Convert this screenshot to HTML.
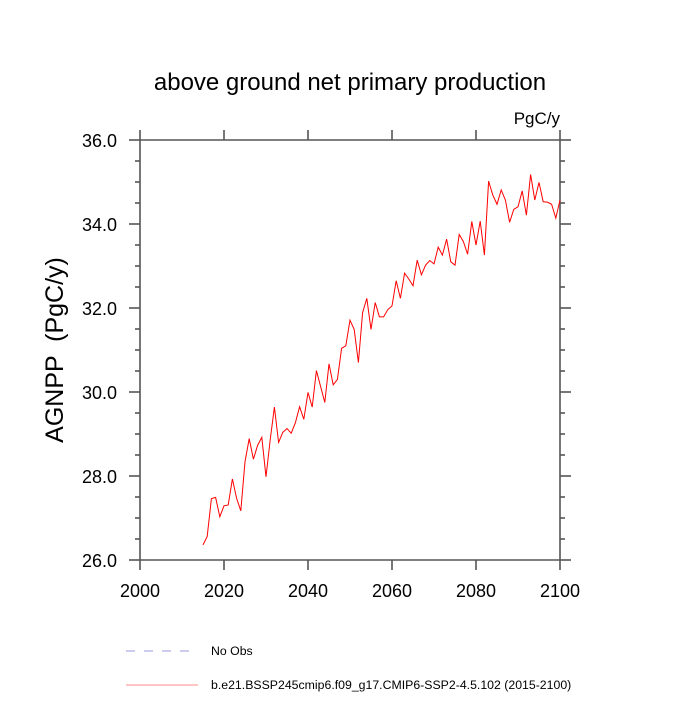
<!DOCTYPE html>
<html><head><meta charset="utf-8"><style>
html,body{margin:0;padding:0;background:#fff;}
svg text{font-family:"Liberation Sans",sans-serif;fill:#000;}
</style></head><body>
<svg id="chart" width="700" height="700">
<text x="350" y="90" font-size="24" text-anchor="middle">above ground net primary production</text>
<text x="560" y="124" font-size="17" text-anchor="end">PgC/y</text>
<text transform="translate(63,350) rotate(-90)" font-size="25" text-anchor="middle" xml:space="preserve">AGNPP  (PgC/y)</text>
<g id="axes"></g>
<path id="series" fill="none" stroke="#ff0000" stroke-width="1"></path>
<g>
<line x1="126" y1="651" x2="198" y2="651" stroke="#9999dd" stroke-dasharray="9,9"/>
<text x="211" y="655" font-size="12.3">No Obs</text>
<line x1="126" y1="685" x2="198" y2="685" stroke="#ff8888"/>
<text x="211" y="689" font-size="12.3">b.e21.BSSP245cmip6.f09_g17.CMIP6-SSP2-4.5.102 (2015-2100)</text>
</g>
</svg>
<script>
const startYear = 2015;
const values = [26.36,26.56,27.46,27.49,27.03,27.29,27.31,27.93,27.47,27.17,
28.34,28.89,28.40,28.73,28.92,27.98,28.86,29.64,28.80,29.04,
29.13,29.02,29.27,29.65,29.35,29.99,29.64,30.51,30.13,29.75,
30.67,30.17,30.30,31.04,31.10,31.71,31.49,30.70,31.89,32.23,
31.49,32.13,31.79,31.79,31.96,32.05,32.65,32.23,32.83,32.69,
32.53,33.14,32.79,33.02,33.13,33.05,33.45,33.26,33.64,33.10,
33.02,33.75,33.58,33.28,34.06,33.50,34.07,33.26,35.02,34.69,
34.47,34.81,34.57,34.04,34.35,34.41,34.79,34.21,35.18,34.57,
34.99,34.53,34.52,34.47,34.14,34.57];
const xTicks = [2000,2020,2040,2060,2080,2100];
const yTicks = [26.0,28.0,30.0,32.0,34.0,36.0];
const xMin=2000,xMax=2100,yMin=26,yMax=36;
const L=140,R=560,T=140,B=560;
const sx=v=>L+(v-xMin)/(xMax-xMin)*(R-L);
const sy=v=>B-(v-yMin)/(yMax-yMin)*(B-T);
const NS="http://www.w3.org/2000/svg";
const ax=document.getElementById('axes');
function ln(x1,y1,x2,y2,name){const e=document.createElementNS(NS,'line');
e.setAttribute('x1',x1);e.setAttribute('y1',y1);e.setAttribute('x2',x2);e.setAttribute('y2',y2);
e.setAttribute('stroke','#555');e.setAttribute('stroke-width','1.6');


ax.appendChild(e);}
function tx(x,y,s,anchor,name){const e=document.createElementNS(NS,'text');
e.setAttribute('x',x);e.setAttribute('y',y);e.setAttribute('font-size','18');e.setAttribute('text-anchor',anchor);e.textContent=s;


ax.appendChild(e);}
ln(L,T,R,T,'plot-frame-top');ln(L,B,R,B,'plot-frame-bottom');ln(L,T,L,B,'plot-frame-left');ln(R,T,R,B,'plot-frame-right');
xTicks.forEach(v=>{const x=sx(v);ln(x,B,x,B+10,'x-tick');ln(x,T,x,T-10,'x-tick-top');tx(x,B+37,String(v),'middle','x-tick-label');});
yTicks.forEach(v=>{const y=sy(v);ln(L,y,L-11,y,'y-tick');ln(R,y,R+11,y,'y-tick-right');tx(L-23,y+7,v.toFixed(1),'end','y-tick-label');});
for(let v=yMin;v<=yMax+1e-9;v+=0.5){if(Math.abs(v-Math.round(v/2)*2)<1e-6)continue;const y=sy(v);ln(L,y,L-5,y,'y-minor-tick');ln(R,y,R+5,y,'y-minor-tick-right');}
const d=values.map((v,i)=>(i?'L':'M')+sx(startYear+i).toFixed(2)+','+sy(v).toFixed(2)).join(' ');
document.getElementById('series').setAttribute('d',d);
</script>
</body></html>
